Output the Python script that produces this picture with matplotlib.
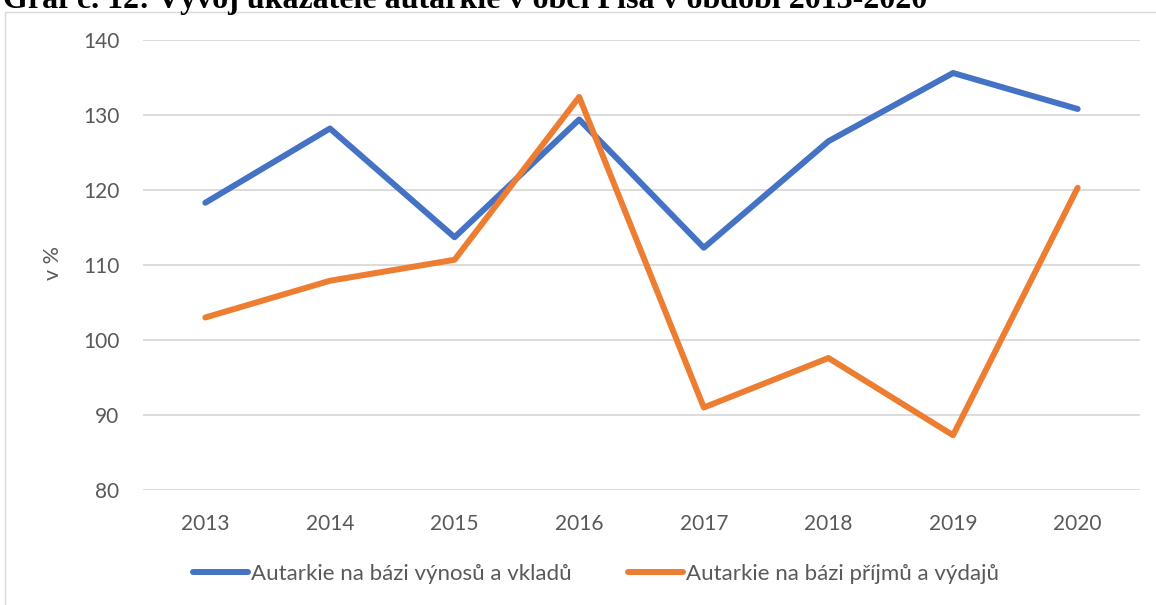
import numpy as np
import matplotlib
matplotlib.use("Agg")
import matplotlib.pyplot as plt
from matplotlib.patches import Rectangle

years = ["2013", "2014", "2015", "2016", "2017", "2018", "2019", "2020"]
vynosy_vklady = [118.3, 128.2, 113.7, 129.4, 112.3, 126.5, 135.6, 130.8]
prijmy_vydaje = [103.0, 107.9, 110.7, 132.4, 91.0, 97.6, 87.3, 120.3]
series_names = ["Autarkie na bázi výnosů a vkladů", "Autarkie na bázi příjmů a výdajů"]
title = "Graf č. 12: Vývoj ukazatele autarkie v obci Písa v období 2013-2020"

W, H = 1156, 605
fig = plt.figure(figsize=(W / 100, H / 100), dpi=100)
plt.rcParams['font.family'] = ['Lato', 'DejaVu Sans']

# chart frame (only left and top edges are visible in the crop)
fig.patches.append(Rectangle((5 / W, -0.1), 1.2, 1 - 12 / H + 0.1, transform=fig.transFigure,
                             fill=False, edgecolor='#D9D9D9', linewidth=1.0))

# title, cropped at the top like in the source
fig.text(3 / W, 1 - 8 / H, title, family='Liberation Serif', fontweight='bold',
         fontsize=23, ha='left', va='baseline', color='black')

ax = fig.add_axes([143 / W, 1 - 490 / H, (1140 - 143) / W, 450 / H])
x = np.arange(len(years))
ax.plot(x, vynosy_vklady, color='#4472C4', lw=4.3, solid_capstyle='round',
        solid_joinstyle='round', label=series_names[0], zorder=3)
ax.plot(x, prijmy_vydaje, color='#ED7D31', lw=4.3, solid_capstyle='round',
        solid_joinstyle='round', label=series_names[1], zorder=3)

ax.set_xlim(-0.5, len(years) - 0.5)
ax.set_ylim(80, 140)
ax.set_yticks(range(80, 141, 10))
ax.set_xticks(x)
ax.set_xticklabels(years)
ax.grid(axis='y', color='#D9D9D9', lw=1.3)
ax.set_axisbelow(True)
for s in ax.spines.values():
    s.set_visible(False)
ax.tick_params(length=0, labelsize=15, colors='#595959')
ax.tick_params(axis='y', pad=17)
ax.tick_params(axis='x', pad=17)
ax.set_ylabel("v %", fontsize=15.5, color='#595959')
ax.yaxis.set_label_coords(-(143 - 63) / (1140 - 143), (490 - 263) / 450)

ax.legend(loc='center', bbox_to_anchor=((596 - 143) / 997, (490 - 574) / 450), ncol=2,
          frameon=False, fontsize=16, handlelength=2.5, handletextpad=0.15,
          columnspacing=2.5, labelcolor='#595959')

fig.savefig("out.png", dpi=100)
